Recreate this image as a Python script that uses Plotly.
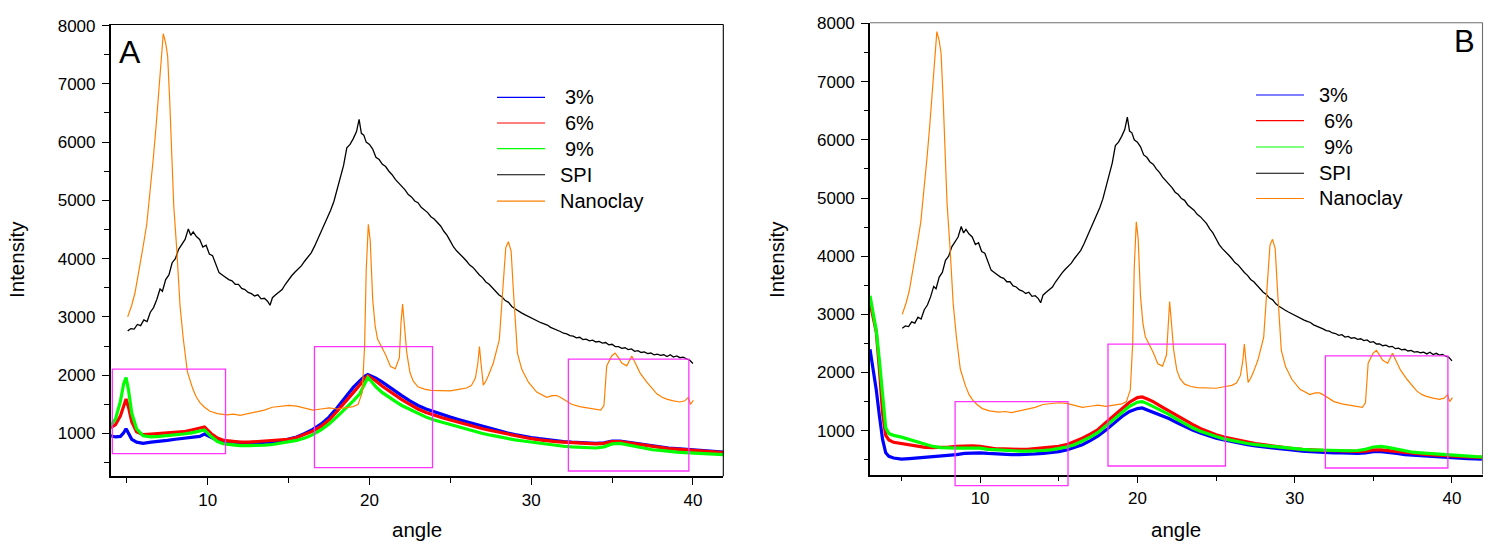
import plotly.graph_objects as go

# ---------------- data ----------------
# Panel A composites
angle_A = [4.0, 4.3, 4.6, 4.8, 4.95, 5.1, 5.3, 5.6, 6.0, 6.5, 7.0, 7.5, 8.0, 8.5, 9.0, 9.5, 9.8,
           10.2, 10.6, 11.0, 11.5, 12, 12.5, 13, 13.5, 14, 14.5, 15, 15.5, 16, 16.5, 17, 17.5, 18,
           18.5, 19, 19.4, 19.7, 19.9, 20.1, 20.4, 20.8, 21.2, 21.6, 22, 22.5, 23, 23.5, 24, 24.5,
           25, 25.5, 26, 26.5, 27, 27.5, 28, 28.5, 29, 29.5, 30, 30.5, 31, 31.5, 32, 32.5, 33, 33.5,
           34, 34.5, 35, 35.5, 36, 36.5, 37, 37.5, 38, 38.5, 39, 39.5, 40, 40.5, 41, 41.5, 41.9]
A_3pct = [960, 940, 950, 1010, 1080, 1010, 900, 850, 830, 850, 860, 880, 900, 920, 930, 950, 990,
          930, 880, 860, 850, 850, 840, 840, 840, 850, 870, 900, 940, 1000, 1070, 1160, 1280, 1440,
          1620, 1790, 1900, 1980, 2010, 1990, 1950, 1880, 1800, 1720, 1650, 1560, 1480, 1420, 1370, 1320,
          1280, 1240, 1200, 1160, 1120, 1080, 1050, 1010, 980, 950, 930, 910, 890, 870, 860, 850, 840, 830,
          830, 840, 870, 870, 850, 830, 800, 780, 770, 750, 740, 730, 720, 710, 700, 690, 680]
A_6pct = [1100, 1150, 1300, 1480, 1590, 1450, 1200, 1030, 980, 990, 1000, 1000, 1010, 1030, 1060, 1090, 1110,
          1000, 920, 880, 860, 850, 850, 860, 860, 870, 880, 900, 930, 980, 1040, 1120, 1230, 1380,
          1530, 1700, 1830, 1940, 1990, 1960, 1900, 1810, 1730, 1650, 1580, 1500, 1420, 1360, 1310, 1270,
          1230, 1190, 1160, 1120, 1080, 1050, 1020, 990, 960, 940, 910, 890, 870, 860, 850, 840, 830, 820,
          820, 830, 860, 860, 840, 820, 790, 770, 760, 740, 730, 720, 710, 700, 690, 680, 670]
A_9pct = [1130, 1250, 1550, 1850, 1960, 1750, 1350, 1080, 960, 940, 950, 960, 970, 990, 1010, 1040, 1060,
          950, 860, 820, 800, 790, 790, 790, 800, 810, 830, 850, 880, 920, 980, 1060, 1160, 1290,
          1420, 1560, 1680, 1850, 1960, 1900, 1800, 1700, 1620, 1550, 1480, 1410, 1340, 1280, 1230, 1190,
          1150, 1110, 1080, 1040, 1000, 970, 940, 920, 890, 870, 850, 830, 810, 790, 780, 770, 760, 750,
          750, 770, 820, 830, 800, 780, 750, 720, 710, 690, 680, 670, 660, 650, 645, 640, 635]

# Panel B composites
angle_B = [3.0, 3.2, 3.4, 3.6, 3.8, 4.0, 4.2, 4.5, 5, 5.5, 6, 6.5, 7, 7.5, 8, 8.5, 9, 9.5, 10, 10.5,
           11, 11.5, 12, 12.5, 13, 13.5, 14, 14.5, 15, 15.5, 16, 16.5, 17, 17.5, 18, 18.5, 19, 19.5,
           20, 20.3, 20.6, 21, 21.5, 22, 22.5, 23, 23.5, 24, 24.5, 25, 25.5, 26, 26.5, 27, 27.5, 28,
           28.5, 29, 29.5, 30, 30.5, 31, 31.5, 32, 32.5, 33, 33.5, 34, 34.5, 35, 35.5, 36, 36.5, 37,
           37.5, 38, 38.5, 39, 39.5, 40, 40.5, 41, 41.5, 41.9]
B_3pct = [2400, 2050, 1700, 1250, 850, 620, 560, 530, 510, 520, 530, 540, 550, 560, 580, 590, 610, 620, 620, 610,
          600, 600, 590, 590, 590, 600, 610, 620, 640, 670, 710, 760, 830, 910, 1010, 1120, 1240, 1330,
          1380, 1390, 1360, 1320, 1270, 1210, 1140, 1070, 1010, 960, 910, 870, 840, 810, 780, 760, 740, 720,
          700, 690, 680, 660, 650, 640, 630, 630, 620, 620, 610, 610, 620, 640, 640, 630, 610, 590,
          580, 570, 560, 550, 540, 530, 525, 520, 515, 510]
B_6pct = [3200, 2950, 2700, 2050, 1300, 920, 840, 800, 780, 750, 730, 715, 710, 710, 720, 730, 740, 740, 730, 710,
          690, 690, 680, 680, 680, 690, 700, 710, 730, 760, 810, 870, 940, 1020, 1140, 1260, 1380, 1490,
          1570, 1580, 1550, 1500, 1420, 1340, 1260, 1180, 1110, 1040, 980, 930, 890, 860, 830, 800, 780, 760,
          740, 720, 710, 690, 680, 670, 665, 660, 655, 650, 645, 645, 650, 670, 670, 655, 640, 620,
          610, 600, 590, 580, 570, 565, 555, 550, 545, 540]
B_9pct = [3320, 3000, 2720, 2200, 1550, 1050, 950, 920, 890, 850, 800, 760, 730, 710, 700, 700, 700, 700, 700, 680,
          670, 660, 650, 650, 650, 650, 660, 670, 690, 720, 760, 820, 890, 970, 1080, 1200, 1310, 1420,
          1490, 1500, 1470, 1420, 1350, 1280, 1200, 1120, 1050, 990, 940, 900, 860, 830, 800, 780, 760, 745,
          730, 715, 700, 690, 680, 670, 665, 660, 655, 650, 655, 660, 680, 720, 730, 710, 680, 650,
          630, 620, 610, 595, 585, 575, 565, 560, 555, 550]

# SPI (same pattern in both panels)
angle_SPI = [5.05, 5.25, 5.45, 5.65, 5.85, 6.05, 6.25, 6.45, 6.65, 6.85, 7.05, 7.2, 7.4, 7.6, 7.8, 8.0, 8.2,
             8.4, 8.6, 8.8, 8.95, 9.1, 9.3, 9.5, 9.7, 9.9, 10.1, 10.3, 10.5, 10.7, 10.9, 11.1, 11.3, 11.5,
             11.7, 11.9, 12.1, 12.3, 12.5, 12.7, 12.9, 13.1, 13.3, 13.5, 13.7, 13.85, 14.0, 14.2, 14.4, 14.6,
             14.8, 15.0, 15.2, 15.4, 15.6, 15.8, 16.0, 16.2, 16.4, 16.6, 16.8, 17.0, 17.2, 17.4, 17.6, 17.8,
             18.0, 18.2, 18.4, 18.6, 18.8, 19.0, 19.2, 19.36, 19.5, 19.65, 19.8, 20.0, 20.2, 20.4, 20.6, 20.8,
             21.0, 21.2, 21.4, 21.6, 21.8, 22.0, 22.2, 22.4, 22.6, 22.8, 23.0, 23.2, 23.4, 23.6, 23.8, 24.0,
             24.2, 24.4, 24.6, 24.8, 25.0, 25.2, 25.4, 25.6, 25.8, 26.0, 26.2, 26.4, 26.6, 26.8, 27.0, 27.2,
             27.4, 27.6, 27.8, 28.0, 28.2, 28.4, 28.6, 28.8, 29.0, 29.2, 29.4, 29.6, 29.8, 30.0, 30.2, 30.4,
             30.6, 30.8, 31.0, 31.2, 31.4, 31.6, 31.8, 32.0, 32.2, 32.4, 32.6, 32.8, 33.0, 33.2, 33.4, 33.6,
             33.8, 34.0, 34.2, 34.4, 34.6, 34.8, 35.0, 35.2, 35.4, 35.6, 35.8, 36.0, 36.2, 36.4, 36.6, 36.8,
             37.0, 37.2, 37.4, 37.6, 37.8, 38.0, 38.2, 38.4, 38.6, 38.8, 39.0, 39.2, 39.4, 39.6, 39.8, 40.0]
SPI = [2760, 2800, 2790, 2870, 2850, 2950, 2920, 3080, 3160, 3300, 3480, 3440, 3640, 3720, 3930, 4000, 4160,
       4250, 4330, 4510, 4400, 4460, 4380, 4330, 4200, 4230, 4080, 4050, 3900, 3760, 3720, 3680, 3640, 3620,
       3560, 3560, 3490, 3470, 3420, 3400, 3360, 3380, 3310, 3320, 3270, 3200, 3330, 3380, 3430, 3470,
       3560, 3640, 3710, 3770, 3820, 3880, 3960, 4040, 4100, 4210, 4330, 4480, 4600, 4720, 4830, 4980,
       5200, 5420, 5600, 5900, 5960, 6060, 6180, 6390, 6150, 6120, 6000, 5960, 5880, 5740, 5700, 5620,
       5580, 5500, 5440, 5360, 5300, 5240, 5180, 5100, 5060, 4990, 4960, 4880, 4830, 4790, 4720, 4680,
       4620, 4560, 4470, 4400, 4300, 4200, 4130, 4080, 4020, 3960, 3890, 3850, 3780, 3720, 3670, 3600,
       3560, 3500, 3450, 3380, 3340, 3280, 3250, 3180, 3140, 3100, 3070, 3040, 3010, 2990, 2950, 2930,
       2900, 2880, 2860, 2820, 2800, 2770, 2750, 2720, 2710, 2680, 2670, 2640, 2650, 2610, 2620, 2590,
       2600, 2570, 2580, 2550, 2560, 2520, 2530, 2490, 2490, 2460, 2470, 2440, 2450, 2410, 2420, 2390,
       2400, 2370, 2380, 2350, 2360, 2340, 2350, 2320, 2350, 2310, 2330, 2300, 2310, 2280, 2260, 2200]

# Nanoclay (same pattern in both panels)
angle_NC = [5.05, 5.3, 5.5, 5.8, 6.0, 6.23, 6.45, 6.63, 6.8, 6.99, 7.1, 7.25, 7.4, 7.52, 7.65, 7.77, 7.9,
            8.08, 8.29, 8.49, 8.74, 9.07, 9.3, 9.52, 9.8, 10.14, 10.6, 11.17, 11.6, 12.0, 12.5, 13.0, 13.5,
            14.0, 14.5, 15.0, 15.5, 16.0, 16.5, 17.0, 17.5, 18.0, 18.5, 19.0, 19.3, 19.55, 19.7, 19.8, 19.93,
            20.05, 20.2, 20.35, 20.5, 20.7, 21.0, 21.3, 21.6, 21.85, 21.95, 22.05, 22.15, 22.3, 22.5, 22.7,
            23.0, 23.4, 23.8, 24.4, 25.0, 25.6, 26.0, 26.3, 26.55, 26.7, 26.8, 26.9, 27.04, 27.2, 27.35,
            27.66, 27.85, 28.03, 28.24, 28.43, 28.59, 28.76, 28.9, 29.15, 29.42, 29.83, 30.34, 30.96, 31.3,
            31.58, 31.8, 32.1, 32.5, 33.0, 33.5, 34.0, 34.3, 34.5, 34.67, 34.98, 35.19, 35.4, 35.6, 35.91,
            36.22, 36.45, 36.73, 37.15, 37.5, 37.77, 38.1, 38.38, 38.8, 39.2, 39.5, 39.72, 39.85, 40.03]
Nanoclay = [3000, 3200, 3410, 3850, 4200, 4590, 5150, 5710, 6250, 6920, 7400, 7860, 7700, 7480, 6700, 5710, 4900,
            4180, 3180, 2620, 2060, 1770, 1620, 1530, 1450, 1380, 1340, 1320, 1330, 1310, 1340, 1360, 1400,
            1450, 1470, 1480, 1470, 1440, 1400, 1420, 1440, 1420, 1440, 1460, 1500, 1700, 2500, 3800, 4590,
            4300, 3300, 2850, 2620, 2510, 2350, 2150, 2110, 2300, 2900, 3220, 2900, 2400, 2050, 1900,
            1800, 1760, 1740, 1740, 1730, 1760, 1780, 1820, 1950, 2200, 2490, 2200, 1830, 1900, 1990,
            2210, 2400, 2610, 3450, 4190, 4290, 4130, 3450, 2380, 2100, 1880, 1710, 1620, 1650,
            1650, 1620, 1570, 1500, 1460, 1440, 1420, 1400, 1480, 2160, 2330, 2380, 2300, 2210, 2160,
            2330, 2200, 2040, 1880, 1760, 1680, 1620, 1590, 1560, 1540, 1560, 1620, 1500, 1570]

series_names = ["3%", "6%", "9%", "SPI", "Nanoclay"]
legend_labels_A = [" 3%", " 6%", " 9%", "SPI", "Nanoclay"]
legend_labels_B = ["3%", " 6%", " 9%", "SPI", "Nanoclay"]

# highlighted regions (angle0, angle1, intensity0, intensity1)
boxes_A = [(4.1, 11.1, 655, 2105), (16.6, 23.9, 412, 2491), (32.3, 39.75, 356, 2275)]
boxes_B = [(8.41, 15.59, 55, 1500), (18.13, 25.6, 393, 2489), (31.95, 39.74, 359, 2286)]

# ---------------- styling ----------------
W, H = 1493, 546
FONT = "Liberation Sans, Arial, sans-serif"
colors = {"3%": "#0000FF", "6%": "#FF0000", "9%": "#00FF00", "SPI": "#000000", "Nanoclay": "#FF8000"}
widths = {"3%": 3.2, "6%": 3.2, "9%": 3.2, "SPI": 1.3, "Nanoclay": 1.2}

xrange_A, yrange_A = [4.0, 41.88], [264, 8019]
xrange_B, yrange_B = [3.0, 41.94], [246, 8012]

fig = go.Figure()

def add_line(x, y, name, xa, ya):
    fig.add_trace(go.Scatter(x=x, y=y, mode="lines", name=name, xaxis=xa, yaxis=ya,
                             line=dict(color=colors[name], width=widths[name]),
                             showlegend=False, hoverinfo="skip"))

for xa, ya, ang, s3, s6, s9 in [("x", "y", angle_A, A_3pct, A_6pct, A_9pct),
                                ("x2", "y2", angle_B, B_3pct, B_6pct, B_9pct)]:
    add_line(ang, s3, "3%", xa, ya)
    add_line(ang, s6, "6%", xa, ya)
    add_line(ang, s9, "9%", xa, ya)
    add_line(angle_SPI, SPI, "SPI", xa, ya)
    add_line(angle_NC, Nanoclay, "Nanoclay", xa, ya)

def xaxis_cfg(dom, rng, anchor):
    return dict(domain=dom, range=rng, anchor=anchor, showline=True, linecolor="black", linewidth=1.6,
                showgrid=False, zeroline=False, ticks="outside", ticklen=7, tickwidth=1.3, tickcolor="black",
                tickvals=[10, 20, 30, 40], ticklabelstandoff=0,
                minor=dict(tickvals=[5, 15, 25, 35], ticks="outside", ticklen=4.5, tickwidth=1.3, tickcolor="black"),
                tickfont=dict(family=FONT, size=17, color="black"))

def yaxis_cfg(dom, rng, anchor):
    return dict(domain=dom, range=rng, anchor=anchor, showline=True, linecolor="black", linewidth=1.6,
                showgrid=False, zeroline=False, ticks="outside", ticklen=7, tickwidth=1.3, tickcolor="black",
                tickvals=[1000, 2000, 3000, 4000, 5000, 6000, 7000, 8000], ticklabelstandoff=3,
                minor=dict(tickvals=[500, 1500, 2500, 3500, 4500, 5500, 6500, 7500], ticks="outside",
                           ticklen=4.5, tickwidth=1.3, tickcolor="black"),
                tickfont=dict(family=FONT, size=17, color="black"))

domA_x = [110.7 / W, 723.3 / W]
domB_x = [870.0 / W, 1482.5 / W]
domA_y = [1 - 475.3 / H, 1 - 16.7 / H]
domB_y = [1 - 473.5 / H, 1 - 15.0 / H]

fig.update_layout(
    width=W, height=H, margin=dict(l=0, r=0, t=0, b=0),
    paper_bgcolor="white", plot_bgcolor="white", showlegend=False,
    xaxis=xaxis_cfg(domA_x, xrange_A, "y"), yaxis=yaxis_cfg(domA_y, yrange_A, "x"),
    xaxis2=xaxis_cfg(domB_x, xrange_B, "y2"), yaxis2=yaxis_cfg(domB_y, yrange_B, "x2"),
)

shapes = []
# top & right frame lines
for xd, yd, col in [("x domain", "y domain", "black"), ("x2 domain", "y2 domain", "#6e6e6e")]:
    shapes.append(dict(type="line", xref=xd, yref=yd, x0=0, x1=1, y0=1, y1=1, line=dict(color=col, width=1.1)))
    shapes.append(dict(type="line", xref=xd, yref=yd, x0=1, x1=1, y0=0, y1=1, line=dict(color=col, width=1.1)))

# highlight boxes (converted from data to axis-domain fractions so they may extend past the axis)
def frac(v, rng):
    return (v - rng[0]) / (rng[1] - rng[0])

for boxes, xd, yd, xr, yr in [(boxes_A, "x domain", "y domain", xrange_A, yrange_A),
                              (boxes_B, "x2 domain", "y2 domain", xrange_B, yrange_B)]:
    for a0, a1, i0, i1 in boxes:
        shapes.append(dict(type="rect", xref=xd, yref=yd, x0=frac(a0, xr), x1=frac(a1, xr),
                           y0=frac(i0, yr), y1=frac(i1, yr), line=dict(color="#FF33FF", width=1.3),
                           fillcolor="rgba(0,0,0,0)"))

annotations = []
# legends
leg_rows_A = [90.7, 116.7, 142.7, 169.3, 196.0]
leg_rows_B = [88.3, 114.3, 141.0, 167.7, 193.3]
for rows, lx0, lx1, tx, labels in [(leg_rows_A, 497, 545, 558.3, legend_labels_A),
                                   (leg_rows_B, 1256, 1304, 1316.7, legend_labels_B)]:
    for yy, nm, lab in zip(rows, series_names, labels):
        shapes.append(dict(type="line", xref="paper", yref="paper", x0=lx0 / W, x1=lx1 / W,
                           y0=1 - yy / H, y1=1 - yy / H, line=dict(color=colors[nm], width=1.1)))
        off = 5.0 if lab.startswith(" ") else 0.0
        annotations.append(dict(xref="paper", yref="paper", x=(tx + off) / W, y=1 - yy / H,
                                text=lab.strip(), showarrow=False, xanchor="left", yanchor="middle",
                                font=dict(family=FONT, size=20, color="black")))

# panel letters
annotations.append(dict(xref="paper", yref="paper", x=130 / W, y=1 - 45 / H, text="A", showarrow=False,
                        xanchor="center", yanchor="middle", font=dict(family=FONT, size=32, color="black")))
annotations.append(dict(xref="paper", yref="paper", x=1464.5 / W, y=1 - 34 / H, text="B", showarrow=False,
                        xanchor="center", yanchor="middle", font=dict(family=FONT, size=31, color="black")))

# axis titles
for cx in [417.0, 1176.0]:
    annotations.append(dict(xref="paper", yref="paper", x=cx / W, y=1 - 529 / H, text="angle", showarrow=False,
                            xanchor="center", yanchor="middle", font=dict(family=FONT, size=20.5, color="black")))
for cx in [16.7, 776.7]:
    annotations.append(dict(xref="paper", yref="paper", x=cx / W, y=1 - 255 / H, text="Intensity",
                            showarrow=False, textangle=-90, xanchor="center", yanchor="middle",
                            font=dict(family=FONT, size=20.5, color="black")))

fig.update_layout(shapes=shapes, annotations=annotations)

fig.write_html("out.html", config={"displayModeBar": False},
               post_script="document.body.style.margin='0';document.body.style.overflow='hidden';")
